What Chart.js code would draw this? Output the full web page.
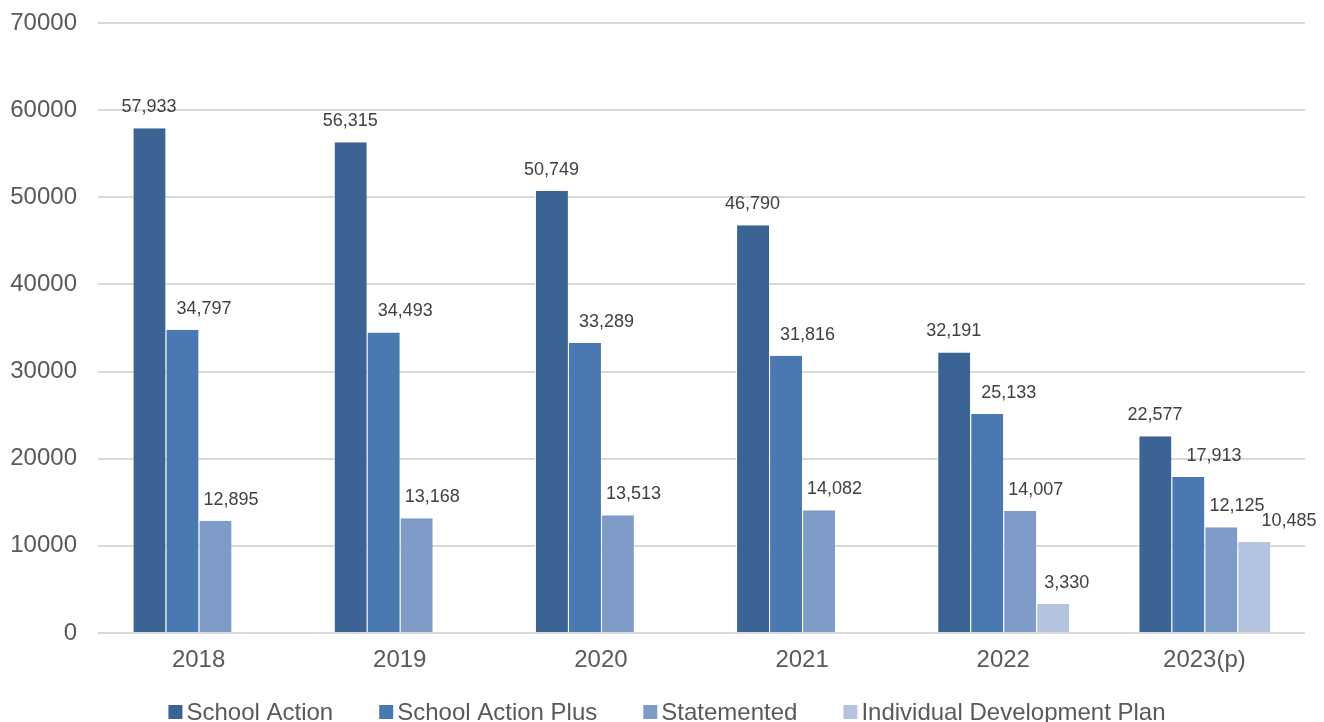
<!DOCTYPE html>
<html><head><meta charset="utf-8">
<script src="https://cdn.jsdelivr.net/npm/chart.js@4/dist/chart.umd.min.js"></script>
<style>html,body{margin:0;padding:0;background:#fff;}canvas{display:block;}</style>
</head><body>
<canvas id="c" width="1324" height="722"></canvas>
<script>
const categories = ['2018','2019','2020','2021','2022','2023(p)'];
const schoolAction = [57933,56315,50749,46790,32191,22577];
const schoolActionPlus = [34797,34493,33289,31816,25133,17913];
const statemented = [12895,13168,13513,14082,14007,12125];
const individualDevelopmentPlan = [null,null,null,null,3330,10485];
const seriesNames = ['School Action','School Action Plus','Statemented','Individual Development Plan'];

const FONT = '"Liberation Sans", Arial, sans-serif';
const colors = ['#3b6393','#4a78b0','#7f9cc8','#b4c4df'];
const labelDx = [0,22,16,14];

const labelPlugin = {
  id:'vals',
  afterDatasetsDraw(chart){
    const ctx = chart.ctx;
    ctx.save();
    ctx.font = '18px ' + FONT;
    ctx.fillStyle = '#404040';
    ctx.textAlign = 'center';
    ctx.textBaseline = 'middle';
    chart.data.datasets.forEach((ds,di)=>{
      const meta = chart.getDatasetMeta(di);
      meta.data.forEach((bar,i)=>{
        const v = ds.data[i];
        if(v===null||v===undefined) return;
        let dx = labelDx[di];
        if(di===3 && i===5) dx = 35;
        if(di===1 && i===5) dx = 26;
        ctx.fillText(v.toLocaleString('en-US'), bar.x+dx, bar.y-21);
      });
    });
    ctx.restore();
  }
};

const legendPlugin = {
  id:'customLegend',
  afterDraw(chart){
    const ctx = chart.ctx;
    ctx.save();
    ctx.font = '24px ' + FONT;
    ctx.textBaseline = 'middle';
    ctx.textAlign = 'left';
    const box = 14, gapText = 4, gapItem = 46;
    const items = chart.data.datasets.map(d=>({t:d.label,c:d.backgroundColor,w:ctx.measureText(d.label).width}));
    let total = items.reduce((s,it)=>s+box+gapText+it.w,0) + gapItem*(items.length-1);
    let x = 667 - total/2;
    const y = 712;
    items.forEach(it=>{
      ctx.fillStyle = it.c;
      ctx.fillRect(x, y-box/2, box, box);
      ctx.fillStyle = '#595959';
      ctx.fillText(it.t, x+box+gapText, y+1);
      x += box+gapText+it.w+gapItem;
    });
    ctx.restore();
  }
};

const data = [schoolAction, schoolActionPlus, statemented, individualDevelopmentPlan];
new Chart(document.getElementById('c'),{
  type:'bar',
  data:{
    labels:categories,
    datasets:data.map((d,i)=>({
      label:seriesNames[i],
      data:d,
      backgroundColor:colors[i],
      borderColor:'#ffffff',
      borderWidth:{left:1,right:0,top:0,bottom:0},
      borderSkipped:false,
      categoryPercentage:0.656,
      barPercentage:1.0
    }))
  },
  options:{
    responsive:false,
    animation:false,
    layout:{padding:{top:23,right:19,left:10,bottom:0}},
    plugins:{
      legend:{display:false},
      tooltip:{enabled:false}
    },
    scales:{
      x:{
        grid:{display:false,drawTicks:false},
        border:{display:false},
        ticks:{font:{size:24,family:FONT},color:'#595959',padding:13},
        afterFit(s){s.height = 89; s.paddingLeft = 0; s.paddingRight = 0;}
      },
      y:{
        min:0,max:70000,
        grid:{color:'#d9d9d9',lineWidth:2,drawTicks:false},
        border:{display:false},
        ticks:{stepSize:10000,font:{size:24,family:FONT},color:'#595959',padding:21,callback:v=>String(v)},
        afterFit(s){s.width = 88; s.paddingTop = 0; s.paddingBottom = 0;}
      }
    }
  },
  plugins:[labelPlugin, legendPlugin]
});
</script>
</body></html>
